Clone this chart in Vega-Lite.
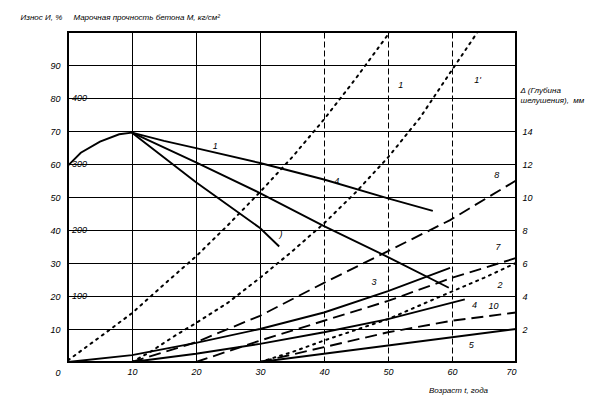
{
  "$schema": "https://vega.github.io/schema/vega-lite/v6.json",
  "width": 448,
  "height": 330,
  "autosize": "none",
  "padding": {"left": 68, "top": 32, "right": 78, "bottom": 33},
  "background": "white",
  "config": {
    "view": {"stroke": "black", "strokeWidth": 2},
    "font": "Liberation Sans",
    "axis": {"labelFont": "Liberation Sans", "labelFontStyle": "italic", "labelFontSize": 9, "labelColor": "black", "titleFont": "Liberation Sans", "titleFontStyle": "italic", "titleFontWeight": "normal", "titleFontSize": 8, "titleColor": "black", "domain": false, "ticks": false}
  },
  "datasets": {
    "curves": [
      {"s": "S0", "k": "solid", "t": 0, "v": 59.5}, {"s": "S0", "k": "solid", "t": 2, "v": 63.4}, {"s": "S0", "k": "solid", "t": 5, "v": 66.8}, {"s": "S0", "k": "solid", "t": 8, "v": 69}, {"s": "S0", "k": "solid", "t": 10, "v": 69.5},
      {"s": "S1", "k": "solid", "t": 10, "v": 69.5}, {"s": "S1", "k": "solid", "t": 15, "v": 67}, {"s": "S1", "k": "solid", "t": 20, "v": 64.8}, {"s": "S1", "k": "solid", "t": 30, "v": 60.3}, {"s": "S1", "k": "solid", "t": 40, "v": 55.3}, {"s": "S1", "k": "solid", "t": 50, "v": 49.6}, {"s": "S1", "k": "solid", "t": 57, "v": 45.8},
      {"s": "S2", "k": "solid", "t": 10, "v": 69.5}, {"s": "S2", "k": "solid", "t": 20, "v": 60.5}, {"s": "S2", "k": "solid", "t": 30, "v": 51.2}, {"s": "S2", "k": "solid", "t": 40, "v": 41.2}, {"s": "S2", "k": "solid", "t": 50, "v": 31.8}, {"s": "S2", "k": "solid", "t": 59.5, "v": 22.5},
      {"s": "S3", "k": "solid", "t": 10, "v": 69.5}, {"s": "S3", "k": "solid", "t": 20, "v": 54.5}, {"s": "S3", "k": "solid", "t": 30, "v": 40.6}, {"s": "S3", "k": "solid", "t": 33, "v": 35},
      {"s": "L3", "k": "solid", "t": 0, "v": 0}, {"s": "L3", "k": "solid", "t": 10, "v": 2.1}, {"s": "L3", "k": "solid", "t": 20, "v": 5.8}, {"s": "L3", "k": "solid", "t": 30, "v": 10}, {"s": "L3", "k": "solid", "t": 40, "v": 15}, {"s": "L3", "k": "solid", "t": 50, "v": 21.5}, {"s": "L3", "k": "solid", "t": 59.7, "v": 28.5},
      {"s": "L4", "k": "solid", "t": 10, "v": 0}, {"s": "L4", "k": "solid", "t": 20, "v": 2.5}, {"s": "L4", "k": "solid", "t": 30, "v": 5.5}, {"s": "L4", "k": "solid", "t": 40, "v": 9}, {"s": "L4", "k": "solid", "t": 50, "v": 13}, {"s": "L4", "k": "solid", "t": 62, "v": 19},
      {"s": "L5", "k": "solid", "t": 30, "v": 0}, {"s": "L5", "k": "solid", "t": 40, "v": 2.5}, {"s": "L5", "k": "solid", "t": 50, "v": 5}, {"s": "L5", "k": "solid", "t": 60, "v": 7.5}, {"s": "L5", "k": "solid", "t": 70, "v": 10},
      {"s": "D1", "k": "dot", "t": 0, "v": 0.5}, {"s": "D1", "k": "dot", "t": 5, "v": 7.6}, {"s": "D1", "k": "dot", "t": 10, "v": 14.8}, {"s": "D1", "k": "dot", "t": 15, "v": 23.5}, {"s": "D1", "k": "dot", "t": 20, "v": 32}, {"s": "D1", "k": "dot", "t": 25, "v": 41.5}, {"s": "D1", "k": "dot", "t": 30, "v": 51.5}, {"s": "D1", "k": "dot", "t": 35, "v": 62}, {"s": "D1", "k": "dot", "t": 40, "v": 73.5}, {"s": "D1", "k": "dot", "t": 45, "v": 86}, {"s": "D1", "k": "dot", "t": 50.3, "v": 100},
      {"s": "D1p", "k": "dot", "t": 10, "v": 0}, {"s": "D1p", "k": "dot", "t": 12.8, "v": 3}, {"s": "D1p", "k": "dot", "t": 16.9, "v": 8.2}, {"s": "D1p", "k": "dot", "t": 20, "v": 11.8}, {"s": "D1p", "k": "dot", "t": 25, "v": 18}, {"s": "D1p", "k": "dot", "t": 30, "v": 25.5}, {"s": "D1p", "k": "dot", "t": 35, "v": 33.5}, {"s": "D1p", "k": "dot", "t": 40, "v": 42}, {"s": "D1p", "k": "dot", "t": 45, "v": 51.5}, {"s": "D1p", "k": "dot", "t": 50, "v": 62}, {"s": "D1p", "k": "dot", "t": 55, "v": 74}, {"s": "D1p", "k": "dot", "t": 60, "v": 88.5}, {"s": "D1p", "k": "dot", "t": 64, "v": 100},
      {"s": "D2", "k": "dot", "t": 30, "v": 0}, {"s": "D2", "k": "dot", "t": 35, "v": 3}, {"s": "D2", "k": "dot", "t": 40, "v": 6.5}, {"s": "D2", "k": "dot", "t": 50, "v": 13}, {"s": "D2", "k": "dot", "t": 58, "v": 19.7}, {"s": "D2", "k": "dot", "t": 65, "v": 25.5}, {"s": "D2", "k": "dot", "t": 70, "v": 30},
      {"s": "LD8", "k": "dash", "t": 10, "v": 0}, {"s": "LD8", "k": "dash", "t": 20, "v": 6}, {"s": "LD8", "k": "dash", "t": 30, "v": 14}, {"s": "LD8", "k": "dash", "t": 36, "v": 20}, {"s": "LD8", "k": "dash", "t": 40, "v": 24}, {"s": "LD8", "k": "dash", "t": 48.75, "v": 32.4}, {"s": "LD8", "k": "dash", "t": 59.7, "v": 43}, {"s": "LD8", "k": "dash", "t": 70, "v": 55},
      {"s": "LD7", "k": "dash", "t": 20, "v": 0}, {"s": "LD7", "k": "dash", "t": 30, "v": 6.5}, {"s": "LD7", "k": "dash", "t": 40, "v": 12.5}, {"s": "LD7", "k": "dash", "t": 50, "v": 18.5}, {"s": "LD7", "k": "dash", "t": 60, "v": 25.5}, {"s": "LD7", "k": "dash", "t": 70, "v": 31.5},
      {"s": "LD10", "k": "dash", "t": 30, "v": 0}, {"s": "LD10", "k": "dash", "t": 40, "v": 4.5}, {"s": "LD10", "k": "dash", "t": 50, "v": 9}, {"s": "LD10", "k": "dash", "t": 60, "v": 12.5}, {"s": "LD10", "k": "dash", "t": 70, "v": 15}
    ],
    "mlabels": [
      {"t": 0, "v": 20, "txt": "100"}, {"t": 0, "v": 40, "txt": "200"}, {"t": 0, "v": 60, "txt": "300"}, {"t": 0, "v": 80, "txt": "400"}
    ],
    "clabels": [
      {"t": 23, "v": 65.5, "txt": "1"}, {"t": 42, "v": 55, "txt": "4"}, {"t": 33.3, "v": 38.8, "txt": ")"}, {"t": 52, "v": 84, "txt": "1"}, {"t": 64, "v": 85.5, "txt": "1'"},
      {"t": 67, "v": 56.7, "txt": "8"}, {"t": 67.2, "v": 35, "txt": "7"}, {"t": 67.5, "v": 23.3, "txt": "2"}, {"t": 66.5, "v": 17, "txt": "10"}, {"t": 63.5, "v": 17.3, "txt": "4"}, {"t": 63, "v": 5.2, "txt": "5"}, {"t": 47.8, "v": 24.2, "txt": "3"}
    ]
  },
  "layer": [
    {
      "data": {"name": "curves"},
      "transform": [{"filter": "datum.k === 'solid'"}],
      "mark": {"type": "line", "color": "black", "strokeWidth": 1.9},
      "encoding": {
        "x": {"field": "t", "type": "quantitative", "scale": {"domain": [0, 70], "nice": false},
          "axis": {"values": [10, 20, 30, 40, 50, 60, 70], "grid": true, "gridColor": "black", "gridOpacity": 1, "gridWidth": 1,
            "gridDash": {"condition": {"test": "datum.value >= 40 && datum.value <= 60", "value": [6, 3]}, "value": []},
            "labelPadding": 5, "title": "Возраст t, года", "titleX": 390, "titleY": 24, "titleAlign": "center"}},
        "y": {"field": "v", "type": "quantitative", "scale": {"domain": [0, 100], "nice": false},
          "axis": {"orient": "left", "values": [0, 10, 20, 30, 40, 50, 60, 70, 80, 90], "grid": true, "gridColor": "black", "gridOpacity": 1, "gridWidth": 1, "labelPadding": 8,
            "labelOffset": {"condition": {"test": "datum.value === 0", "value": 10}, "value": 0},
            "title": "Износ И, %\u00a0\u00a0\u00a0\u00a0\u00a0Марочная прочность бетона М, кг/см²", "titleAngle": 0, "titleAlign": "left", "titleBaseline": "middle", "titleX": -48, "titleY": -15}},
        "detail": {"field": "s"}
      }
    },
    {
      "data": {"name": "curves"},
      "transform": [{"filter": "datum.k === 'dot'"}],
      "mark": {"type": "line", "color": "black", "strokeWidth": 2, "strokeDash": [2, 5], "strokeCap": "round"},
      "encoding": {"x": {"field": "t", "type": "quantitative"}, "y": {"field": "v", "type": "quantitative", "axis": null}, "detail": {"field": "s"}}
    },
    {
      "data": {"name": "curves"},
      "transform": [{"filter": "datum.k === 'dash'"}],
      "mark": {"type": "line", "color": "black", "strokeWidth": 1.9, "strokeDash": [12, 6]},
      "encoding": {"x": {"field": "t", "type": "quantitative"},
        "y": {"field": "v", "type": "quantitative",
          "axis": {"orient": "right", "values": [10, 20, 30, 40, 50, 60, 70], "labelExpr": "datum.value / 5", "grid": false, "labelPadding": 6,
            "title": ["Δ (Глубина", "шелушения),\u00a0\u00a0мм"], "titleAngle": 0, "titleAlign": "left", "titleBaseline": "top", "titleX": 4, "titleY": 54}},
        "detail": {"field": "s"}}
    },
    {
      "data": {"name": "mlabels"},
      "mark": {"type": "text", "align": "left", "baseline": "middle", "dx": 4, "fontSize": 9, "fontStyle": "italic", "color": "black"},
      "encoding": {"x": {"field": "t", "type": "quantitative"}, "y": {"field": "v", "type": "quantitative", "axis": null}, "text": {"field": "txt"}}
    },
    {
      "data": {"name": "clabels"},
      "mark": {"type": "text", "align": "center", "baseline": "middle", "fontSize": 9, "fontStyle": "italic", "color": "black"},
      "encoding": {"x": {"field": "t", "type": "quantitative"}, "y": {"field": "v", "type": "quantitative", "axis": null}, "text": {"field": "txt"}}
    }
  ],
  "resolve": {"axis": {"y": "independent"}}
}
